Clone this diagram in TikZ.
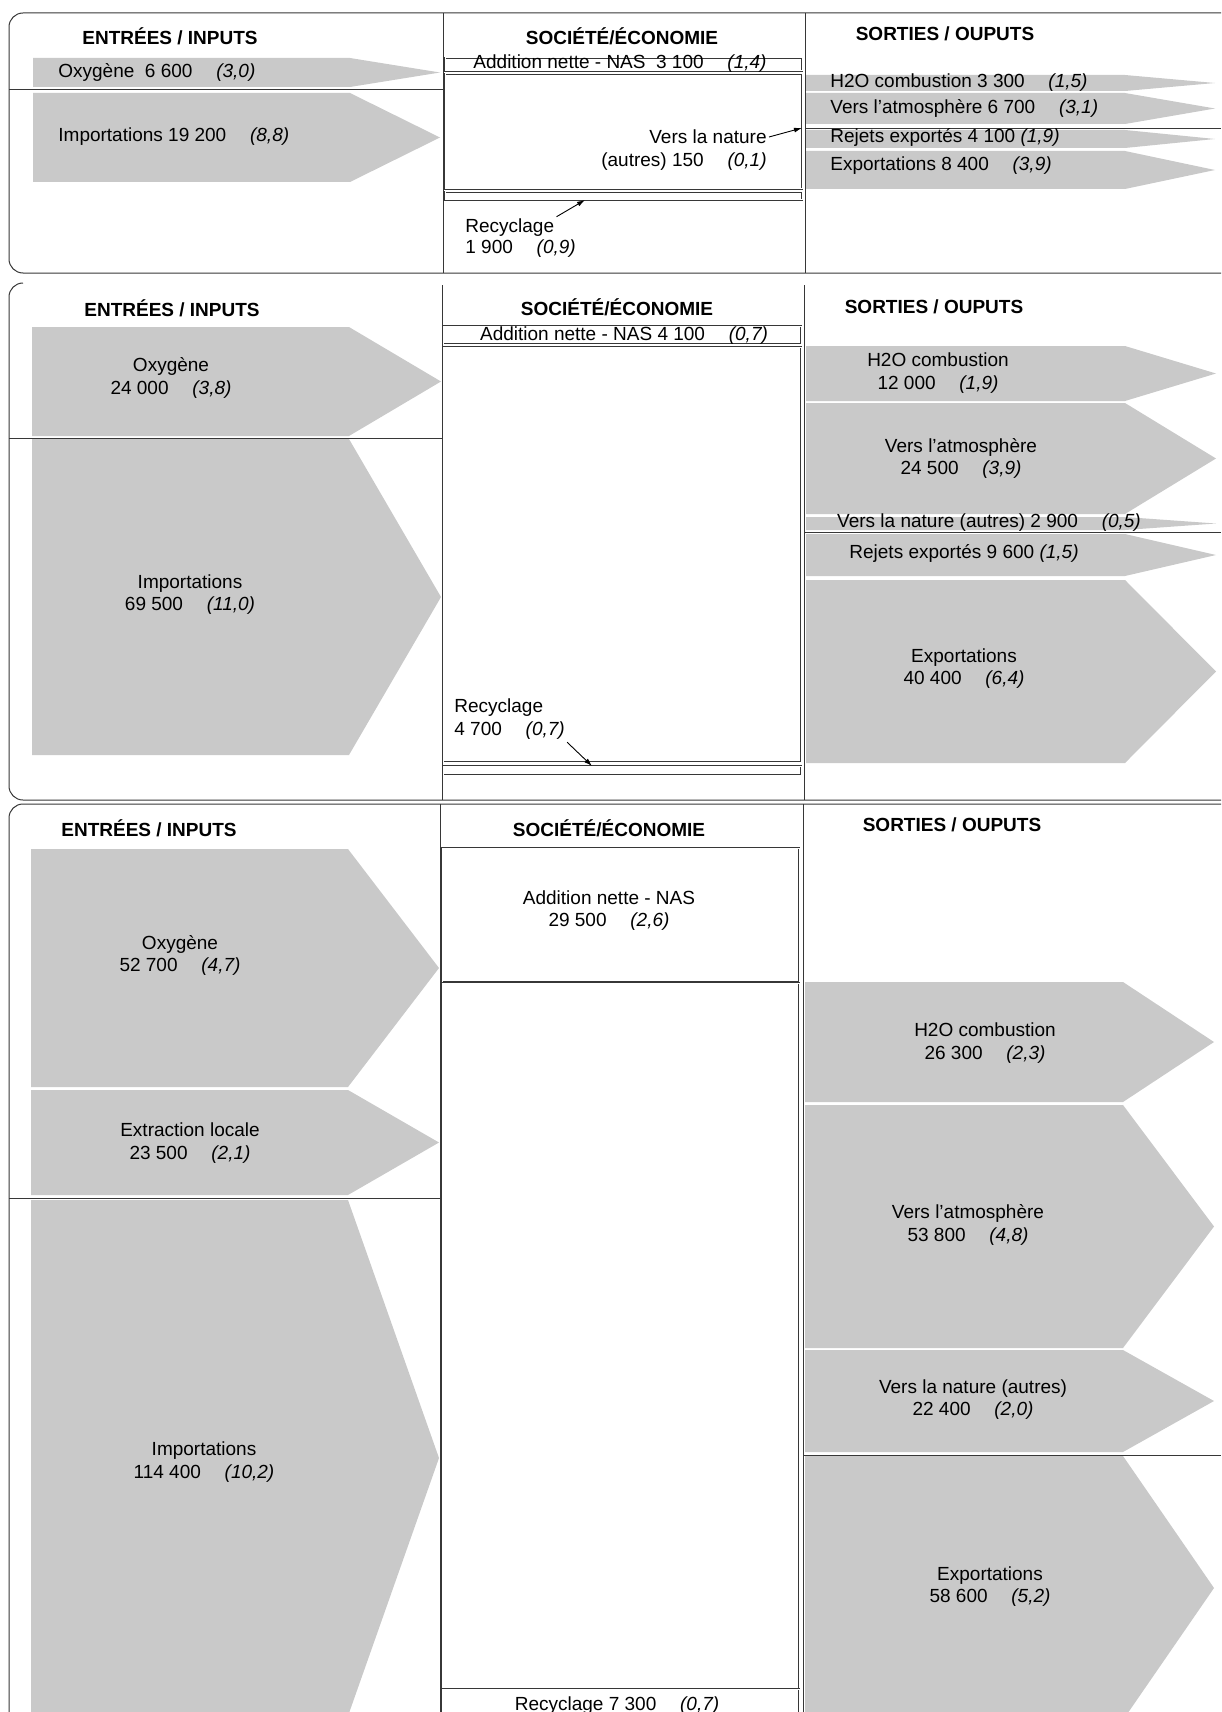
\documentclass[tikz,border=0pt]{standalone}
\usepackage{fontspec}
\setmainfont{Liberation Sans}
\usetikzlibrary{arrows.meta}
\definecolor{flowgray}{RGB}{201,201,201}
\definecolor{framegray}{RGB}{55,55,55}
\newcommand{\flowgap}{\hspace{1.25em}}

\begin{document}
\begin{tikzpicture}[x=0.5pt, y=-0.5pt,
    every node/.style={font=\fontsize{9.5}{11.4}\selectfont, inner sep=1pt},
    head/.style={font=\fontsize{9.5}{11.4}\selectfont\bfseries},
    lbl/.style={align=center},
    flow/.style={fill=flowgray},
    frame/.style={draw=framegray, line width=0.5pt, rounded corners=7pt},
    divider/.style={draw=framegray, line width=0.4pt},
    socbox/.style={draw=framegray, line width=0.3pt, double=white, double distance=0.5pt},
    callout/.style={draw=black, line width=0.45pt, -{Latex[length=4pt,width=2.5pt]}}]
    \useasboundingbox (0,0) rectangle (1221,1712);
    \clip (0,0) rectangle (1221,1712);

    % First panel - small flows
    \fill[flow] (33,58) -- (350,58) -- (440,72.5) -- (350,87) -- (33,87) -- cycle;
    \fill[flow] (33,93) -- (350,93) -- (440,137.5) -- (350,182) -- (33,182) -- cycle;
    \fill[flow] (806,75) -- (1125,75) -- (1215,83) -- (1125,91) -- (806,91) -- cycle;
    \fill[flow] (806,93) -- (1125,93) -- (1215,108.5) -- (1125,124) -- (806,124) -- cycle;
    \fill[flow] (806,130) -- (1125,130) -- (1215,139) -- (1125,148) -- (806,148) -- cycle;
    \fill[flow] (806,151) -- (1125,151) -- (1215,170) -- (1125,189) -- (806,189) -- cycle;
    \draw[socbox] (445,58) rectangle (802,71);
    \draw[socbox] (445,74) rectangle (802,189);
    \draw[socbox] (445,192) rectangle (802,200);
    \draw[frame] (1240,13) -| (9,273) -- (1240,273);
    \draw[divider] (443,13) -- (443,273) (805,13) -- (805,273);
    \draw[divider] (9,89) -- (443,89) (805,128) -- (1221,128);

    \node[head] (ent1) at (170,36) {ENTRÉES / INPUTS};
    \node[head] (soc1) at (622,36) {SOCIÉTÉ/ÉCONOMIE};
    \node[head] (sor1) at (945,34) {SORTIES / OUPUTS};
    \node[anchor=west] (oxy1) at (56,72) {Oxygène~ 6 600\flowgap\textit{(3,0)}};
    \node[anchor=west] (imp1) at (56,137) {Importations 19 200\flowgap\textit{(8,8)}};
    \node (nas1) at (620,64) {Addition nette - NAS~ 3 100\flowgap\textit{(1,4)}};
    \node[anchor=east] (nat1a) at (769,137) {Vers la nature};
    \node[anchor=east] (nat1b) at (769,162) {(autres) 150\flowgap\textit{(0,1)}};
    \node[anchor=west] (rec1a) at (463,228) {Recyclage};
    \node[anchor=west] (rec1b) at (463,249) {1 900\flowgap\textit{(0,9)}};
    \node[anchor=west] (h2o1) at (828,83) {H2O combustion 3 300\flowgap\textit{(1,5)}};
    \node[anchor=west] (atm1) at (828,108) {Vers l’atmosphère 6 700\flowgap\textit{(3,1)}};
    \node[anchor=west] (rej1) at (828,137) {Rejets exportés 4 100 \textit{(1,9)}};
    \node[anchor=west] (exp1) at (828,166) {Exportations 8 400\flowgap\textit{(3,9)}};
    \coordinate (nat1tip) at (802,128);
    \coordinate (rec1tip) at (585,200);
    \draw[callout] (nat1a.east) -- (nat1tip);
    \draw[callout] (rec1a.north east) -- (rec1tip);

    % Second panel - medium flows
    \fill[flow] (32,327) -- (349,327) -- (441,381.5) -- (349,436) -- (32,436) -- cycle;
    \fill[flow] (32,439) -- (349,439) -- (441,597) -- (349,755) -- (32,755) -- cycle;
    \fill[flow] (806,346) -- (1125,346) -- (1216,373.5) -- (1125,401) -- (806,401) -- cycle;
    \fill[flow] (806,403) -- (1125,403) -- (1216,458.5) -- (1125,514) -- (806,514) -- cycle;
    \fill[flow] (806,517) -- (1125,517) -- (1216,523.5) -- (1125,530) -- (806,530) -- cycle;
    \fill[flow] (806,534) -- (1125,534) -- (1216,555) -- (1125,576) -- (806,576) -- cycle;
    \fill[flow] (806,580) -- (1125,580) -- (1216,671.5) -- (1125,763) -- (806,763) -- cycle;
    \draw[socbox] (443,326) rectangle (801,344);
    \draw[socbox] (443,347) rectangle (801,762);
    \draw[socbox] (443,766) rectangle (801,775);
    \draw[frame] (23,283) -| (9,800) -- (1240,800);
    \draw[divider] (442,285) -- (442,800) (804,285) -- (804,800);
    \draw[divider] (9,438) -- (442,438) (804,532) -- (1221,532);

    \node[head] (ent2) at (172,308) {ENTRÉES / INPUTS};
    \node[head] (soc2) at (617,307) {SOCIÉTÉ/ÉCONOMIE};
    \node[head] (sor2) at (934,307) {SORTIES / OUPUTS};
    \node[lbl] (oxy2) at (171,378) {Oxygène\\24 000\flowgap\textit{(3,8)}};
    \node[lbl] (imp2) at (190,594.5) {Importations\\69 500\flowgap\textit{(11,0)}};
    \node (nas2) at (624,336) {Addition nette - NAS 4 100\flowgap\textit{(0,7)}};
    \node[anchor=west] (rec2a) at (452,708) {Recyclage};
    \node[anchor=west] (rec2b) at (452,731) {4 700\flowgap\textit{(0,7)}};
    \node[lbl] (h2o2) at (938,373) {H2O combustion\\12 000\flowgap\textit{(1,9)}};
    \node[lbl] (atm2) at (961,458.5) {Vers l’atmosphère\\24 500\flowgap\textit{(3,9)}};
    \node (nat2) at (989,523) {Vers la nature (autres) 2 900\flowgap\textit{(0,5)}};
    \node (rej2) at (964,553) {Rejets exportés 9 600 \textit{(1,5)}};
    \node[lbl] (exp2) at (964,668.5) {Exportations\\40 400\flowgap\textit{(6,4)}};
    \coordinate (rec2tip) at (592,766);
    \draw[callout] (rec2b.south east) -- (rec2tip);

    % Third panel - large flows
    \fill[flow] (31,849) -- (348,849) -- (439,968) -- (348,1087) -- (31,1087) -- cycle;
    \fill[flow] (31,1090) -- (348,1090) -- (439,1142.5) -- (348,1195) -- (31,1195) -- cycle;
    \fill[flow] (31,1200) -- (348,1200) -- (439,1458) -- (348,1716) -- (31,1716) -- cycle;
    \fill[flow] (805,982) -- (1123,982) -- (1214,1042) -- (1123,1102) -- (805,1102) -- cycle;
    \fill[flow] (805,1105) -- (1123,1105) -- (1214,1226.5) -- (1123,1348) -- (805,1348) -- cycle;
    \fill[flow] (805,1350) -- (1123,1350) -- (1214,1401) -- (1123,1452) -- (805,1452) -- cycle;
    \fill[flow] (805,1456) -- (1123,1456) -- (1214,1588) -- (1123,1720) -- (805,1720) -- cycle;
    \draw[socbox] (442,848) rectangle (799,982);
    \draw[socbox] (442,983) rectangle (799,1689);
    \draw[socbox] (442,1689) rectangle (799,1740);
    \draw[frame] (1240,804) -| (9,1740);
    \draw[divider] (440,804) -- (440,1712) (803,804) -- (803,1712);
    \draw[divider] (9,1198) -- (440,1198) (803,1455) -- (1221,1455);

    \node[head] (ent3) at (149,828) {ENTRÉES / INPUTS};
    \node[head] (soc3) at (609,828) {SOCIÉTÉ/ÉCONOMIE};
    \node[head] (sor3) at (952,825) {SORTIES / OUPUTS};
    \node[lbl] (oxy3) at (180,955.5) {Oxygène\\52 700\flowgap\textit{(4,7)}};
    \node[lbl] (ext3) at (190,1143) {Extraction locale\\23 500\flowgap\textit{(2,1)}};
    \node[lbl] (imp3) at (204,1462) {Importations\\114 400\flowgap\textit{(10,2)}};
    \node[lbl] (nas3) at (609,910.5) {Addition nette - NAS\\29 500\flowgap\textit{(2,6)}};
    \node (rec3) at (617,1706) {Recyclage 7 300\flowgap\textit{(0,7)}};
    \node[lbl] (h2o3) at (985,1043) {H2O combustion\\26 300\flowgap\textit{(2,3)}};
    \node[lbl] (atm3) at (968,1225) {Vers l’atmosphère\\53 800\flowgap\textit{(4,8)}};
    \node[lbl] (nat3) at (973,1399.5) {Vers la nature (autres)\\22 400\flowgap\textit{(2,0)}};
    \node[lbl] (exp3) at (990,1586.5) {Exportations\\58 600\flowgap\textit{(5,2)}};
\end{tikzpicture}
\end{document}
